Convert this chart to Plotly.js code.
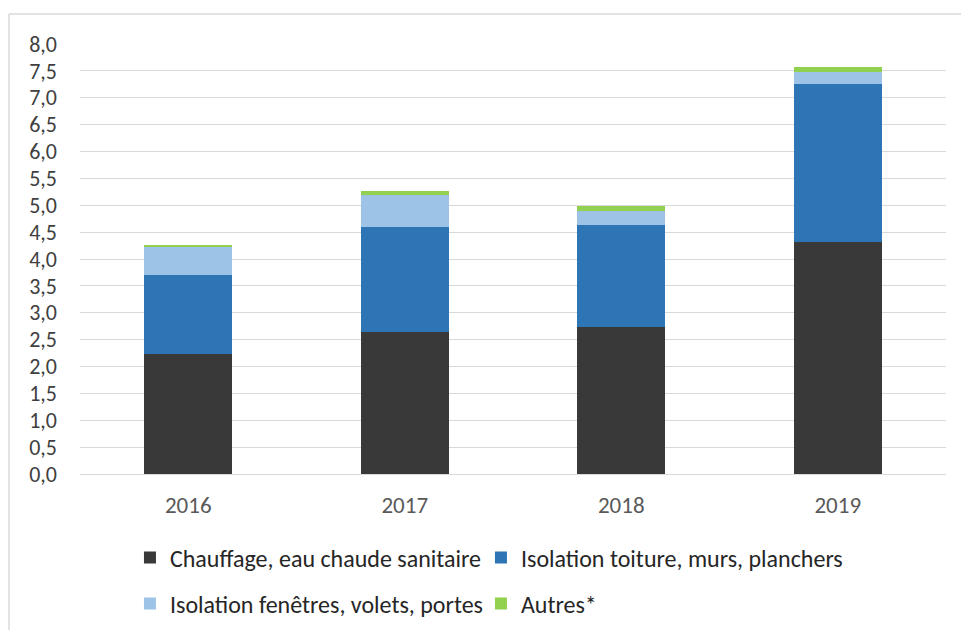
<!DOCTYPE html>
<html>
<head>
<meta charset="utf-8">
<script src="https://cdn.plot.ly/plotly-3.0.1.min.js"></script>
<style>html,body{margin:0;padding:0;background:#fff;}#chart{width:961px;height:630px;}</style>
</head>
<body>
<div id="chart"></div>
<script>
const years = ["2016", "2017", "2018", "2019"];
const chauffage = [2.23, 2.64, 2.74, 4.31];
const isolationMurs = [1.47, 1.96, 1.89, 2.94];
const isolationFenetres = [0.52, 0.59, 0.27, 0.23];
const autres = [0.04, 0.08, 0.09, 0.10];
const yTicks = [0, 0.5, 1, 1.5, 2, 2.5, 3, 3.5, 4, 4.5, 5, 5.5, 6, 6.5, 7, 7.5, 8];
const yTickText = yTicks.map(v => v.toFixed(1).replace('.', ','));

const names = ["Chauffage, eau chaude sanitaire", "Isolation toiture, murs, planchers", "Isolation fenêtres, volets, portes", "Autres*"];
const colors = ["#393939", "#2e75b6", "#9dc3e6", "#92d050"];
const series = [chauffage, isolationMurs, isolationFenetres, autres];
const legendIds = ["legend", "legend2", "legend3", "legend4"];

const data = series.map((s, i) => ({
  type: 'bar', x: years, y: s, name: names[i], legend: legendIds[i],
  marker: {color: colors[i], line: {width: 0}},
  hoverinfo: 'skip'
}));

const font = "Carlito, Calibri, Lato, 'Liberation Sans', sans-serif";
const legendPos = [[0.0577, -0.195], [0.463, -0.195], [0.0577, -0.302], [0.463, -0.302]];
const layout = {
  width: 961, height: 630,
  margin: {l: 80, r: 15, t: 44, b: 156, autoexpand: false},
  barmode: 'stack', bargap: 0.595,
  paper_bgcolor: '#fff', plot_bgcolor: '#fff',
  font: {family: font},
  xaxis: {type: 'category', showgrid: false, showline: false, ticks: '', zeroline: false,
    tickfont: {size: 23, color: '#595959'}, ticklabelstandoff: 15},
  yaxis: {range: [0, 8], tickvals: yTicks, ticktext: yTickText, showgrid: true,
    gridcolor: '#d9d9d9', gridwidth: 1, zeroline: true, zerolinecolor: '#d9d9d9', zerolinewidth: 1,
    showline: false, ticks: '', tickfont: {size: 22, color: '#404040'}, ticklabelstandoff: 22, fixedrange: true},
  showlegend: true,
  shapes: [
    {type: 'line', xref: 'paper', yref: 'paper', x0: (9 - 80) / 866, x1: 1.1, y0: (474 - 14) / 430, y1: (474 - 14) / 430, line: {color: '#d9d9d9', width: 1.5}},
    {type: 'line', xref: 'paper', yref: 'paper', x0: (9 - 80) / 866, x1: (9 - 80) / 866, y0: (474 - 14) / 430, y1: -0.4, line: {color: '#d9d9d9', width: 1.5}}
  ]
};
legendIds.forEach((id, i) => {
  layout[id] = {orientation: 'h', x: legendPos[i][0], xanchor: 'left', y: legendPos[i][1], yanchor: 'middle',
    font: {size: 24, color: '#262626'}, bgcolor: 'rgba(0,0,0,0)'};
});
Plotly.newPlot('chart', data, layout, {displayModeBar: false, staticPlot: true});
</script>
</body>
</html>
